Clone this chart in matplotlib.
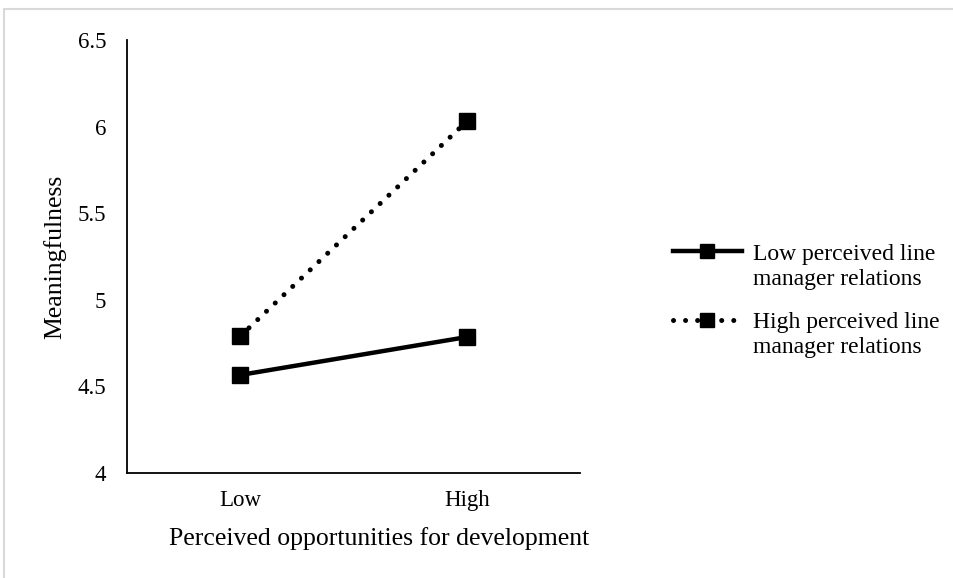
import matplotlib
matplotlib.use('Agg')
from matplotlib import pyplot as plt
from matplotlib.patches import Rectangle

categories = ['Low', 'High']
low_relations = [4.566, 4.785]
high_relations = [4.79, 6.03]
series_first_lines = ['Low perceived line', 'High perceived line']
series_second_lines = ['manager relations', 'manager relations']
y_ticks = [4, 4.5, 5, 5.5, 6, 6.5]
y_tick_labels = ['4', '4.5', '5', '5.5', '6', '6.5']

plt.rcParams['font.family'] = ['Liberation Serif', 'DejaVu Serif']
plt.rcParams['font.size'] = 16.5

fig = plt.figure(figsize=(9.54, 5.78), dpi=100)
fig.patches.append(Rectangle((4/954, -0.01), 1.0, 1 - 9/578 + 0.01, transform=fig.transFigure,
                             fill=False, edgecolor='#d9d9d9', linewidth=1.5))
ax = fig.add_axes([127/954, 1 - 473/578, (580 - 127)/954, (473 - 40)/578])

x = [0, 1]
ax.plot(x, low_relations, color='black', linewidth=3.2, marker='s', markersize=11,
        label=series_first_lines[0])
ax.plot(x, high_relations, color='black', linewidth=3.6, linestyle=(0, (0.01, 2.4)),
        dash_capstyle='round', marker='s', markersize=11, label=series_first_lines[1])

ax.set_xlim(-0.5, 1.5)
ax.set_ylim(4, 6.5)
ax.set_xticks(x)
ax.set_xticklabels(categories)
ax.set_yticks(y_ticks)
ax.set_yticklabels(y_tick_labels)
ax.tick_params(length=0)
ax.tick_params(axis='x', pad=12)
ax.tick_params(axis='y', pad=15)
for s in ['top', 'right']:
    ax.spines[s].set_visible(False)
ax.spines['left'].set_linewidth(1.3)
ax.spines['bottom'].set_linewidth(1.3)

ax.set_xlabel('Perceived opportunities for development', fontsize=18.5)
ax.xaxis.set_label_coords(0.556, -0.125)
ax.set_ylabel('Meaningfulness', fontsize=18.5, labelpad=8)

leg = ax.legend(loc='upper left', bbox_to_anchor=(673/954, 1 - 243/578), bbox_transform=fig.transFigure,
                frameon=False, fontsize=17, handlelength=2.92, handletextpad=0.47,
                labelspacing=2.0, borderpad=0, borderaxespad=0, markerscale=0.9)
# second line of each legend label, placed under the first one
for txt, second in zip(leg.get_texts(), series_second_lines):
    ax.annotate(second, xy=(0, 0), xycoords=txt, xytext=(0, -3), textcoords='offset points',
                ha='left', va='top', fontsize=17, annotation_clip=False, zorder=6)

fig.savefig('out.png', dpi=100)
